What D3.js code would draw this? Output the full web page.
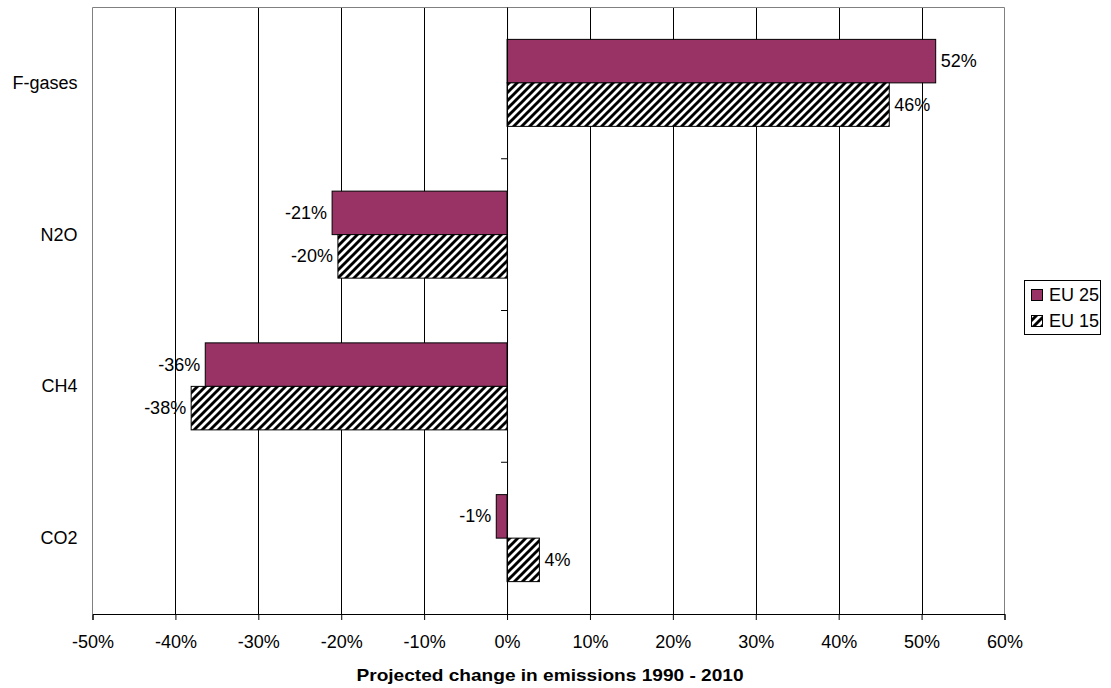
<!DOCTYPE html>
<html><head><meta charset="utf-8">
<script src="https://cdn.jsdelivr.net/npm/d3@7"></script>
<style>body{margin:0;background:#fff;} text{font-family:"Liberation Sans",Arial,sans-serif;}</style>
</head><body>
<svg id="c" width="1111" height="688"></svg>
<script>
const categories = ["F-gases","N2O","CH4","CO2"];
const seriesNames = ["EU 25","EU 15"];
const eu25 = [51.7, -21.1, -36.4, -1.3];
const eu15 = [46.1, -20.4, -38.1, 3.9];
const labels25 = ["52%","-21%","-36%","-1%"];
const labels15 = ["46%","-20%","-38%","4%"];
const xTicks = [-50,-40,-30,-20,-10,0,10,20,30,40,50,60];
const xTitle = "Projected change in emissions 1990 - 2010";

const FS = 18;
const svg = d3.select("#c");
const L=92.5, R=1004.5, T=7, B=614;
const x = d3.scaleLinear().domain([-50,60]).range([L,R]);
const y = d3.scaleBand().domain(categories).range([T,B]);
const defs = svg.append("defs");
const pat = defs.append("pattern").attr("id","hatch").attr("patternUnits","userSpaceOnUse")
  .attr("width",8).attr("height",8);
pat.append("rect").attr("width",8).attr("height",8).attr("fill","#fff");
pat.append("path").attr("d","M-2,2 L2,-2 M0,8 L8,0 M6,10 L10,6").attr("stroke","#000").attr("stroke-width",2.9);

// gridlines
svg.append("g").selectAll("line").data(xTicks.filter(d=>d>-50&&d<60)).join("line")
  .attr("x1",d=>Math.round(x(d))+0.5).attr("x2",d=>Math.round(x(d))+0.5)
  .attr("y1",T).attr("y2",B).attr("stroke","#000").attr("stroke-width",1);
// border
svg.append("path").attr("d",`M${L},${B} V${T+0.5} H${R} V${B}`).attr("fill","none").attr("stroke","#808080").attr("stroke-width",1);

const bh = 43.5;
const c = d => y(d)+y.bandwidth()/2;
const g = svg.append("g");
g.selectAll("rect.a").data(categories).join("rect").attr("class","a")
  .attr("x",(d,i)=>x(Math.min(0,eu25[i]))).attr("width",(d,i)=>Math.abs(x(eu25[i])-x(0)))
  .attr("y",d=>c(d)-bh).attr("height",bh).attr("fill","#993366").attr("stroke","#000").attr("stroke-width",1);
g.selectAll("rect.b").data(categories).join("rect").attr("class","b")
  .attr("x",(d,i)=>x(Math.min(0,eu15[i]))).attr("width",(d,i)=>Math.abs(x(eu15[i])-x(0)))
  .attr("y",d=>c(d)).attr("height",bh).attr("fill","url(#hatch)").attr("stroke","#000").attr("stroke-width",1);

// data labels
function lab(vals, labs, off){
  g.selectAll(null).data(categories).join("text")
    .attr("x",(d,i)=>x(vals[i]) + (vals[i]>=0?5:-5))
    .attr("y",d=>c(d)+off)
    .attr("text-anchor",(d,i)=>vals[i]>=0?"start":"end")
    .attr("dominant-baseline","central")
    .attr("font-size",FS).text((d,i)=>labs[i]);
}
lab(eu25, labels25, -bh/2);
lab(eu15, labels15, bh/2);

// x axis
const xa = svg.append("g").attr("transform",`translate(0,${B})`)
  .call(d3.axisBottom(x).tickValues(xTicks).tickFormat(d=>d+"%").tickSize(6).tickPadding(15));
xa.select(".domain").attr("stroke","#000");
xa.selectAll(".tick line").attr("stroke","#000");
xa.selectAll("text").attr("font-size",FS).attr("fill","#000").attr("font-family","Liberation Sans, Arial, sans-serif");

// y axis at zero
const ya = svg.append("g").attr("transform",`translate(${x(0)},0)`)
  .call(d3.axisLeft(y).tickValues([]).tickSize(0));
ya.select(".domain").attr("stroke","#000");
const bounds = categories.slice(1).map(d=>y(d));
svg.append("g").selectAll("line").data(bounds).join("line")
  .attr("x1",x(0)-6).attr("x2",x(0)).attr("y1",d=>d).attr("y2",d=>d).attr("stroke","#000");

// category labels
svg.append("g").selectAll("text").data(categories).join("text")
  .attr("x",77.5).attr("y",d=>c(d)).attr("text-anchor","end").attr("dominant-baseline","central")
  .attr("font-size",FS).text(d=>d);

// title
svg.append("text").attr("x",(L+R)/2+1.5).attr("y",681).attr("text-anchor","middle")
  .attr("font-size",17).attr("font-weight","bold")
  .attr("textLength",387).attr("lengthAdjust","spacingAndGlyphs").text(xTitle);

// legend
const lg = svg.append("g");
lg.append("rect").attr("x",1024.5).attr("y",280.5).attr("width",76).attr("height",54).attr("fill","#fff").attr("stroke","#000");
const fills = ["#993366","url(#hatch)"];
seriesNames.forEach((n,i)=>{
  const yy = 295 + i*26;
  lg.append("rect").attr("x",1031.5).attr("y",yy-5.5).attr("width",11).attr("height",11).attr("fill",fills[i]).attr("stroke","#000");
  lg.append("text").attr("x",1049).attr("y",yy).attr("dominant-baseline","central").attr("font-size",FS).text(n);
});
</script>
</body></html>
